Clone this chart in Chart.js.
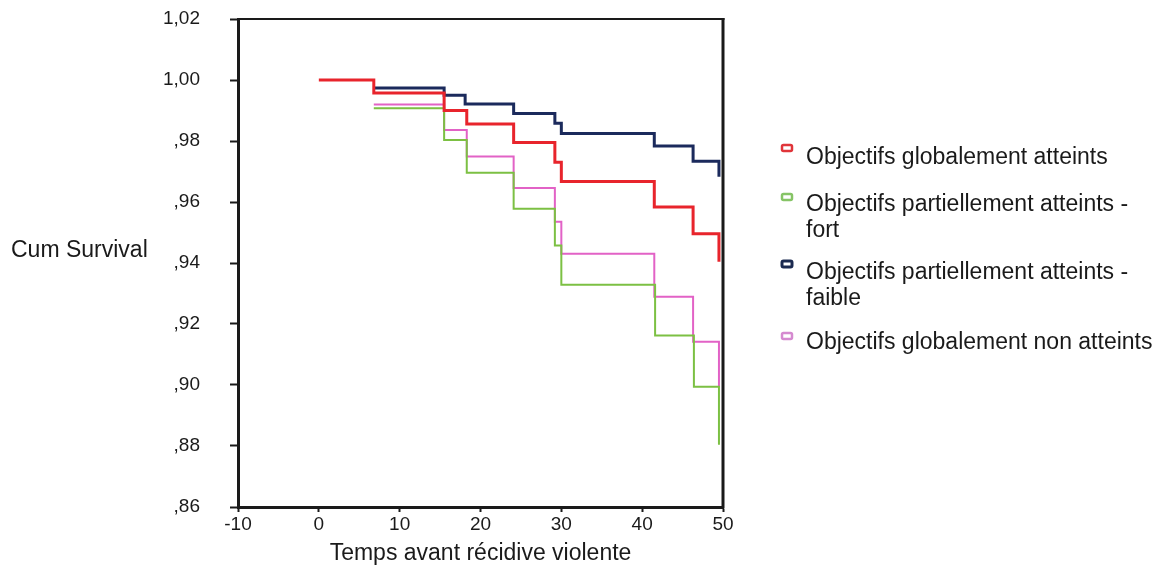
<!DOCTYPE html>
<html>
<head>
<meta charset="utf-8">
<script src="https://cdn.jsdelivr.net/npm/chart.js@4/dist/chart.umd.min.js"></script>
<style>
  html, body { margin: 0; padding: 0; background: #fff; }
  #wrap { width: 1163px; height: 567px; }
</style>
</head>
<body>
<div id="wrap"><canvas id="graphique" width="1163" height="567"></canvas></div>
<script>
// Données (courbes de survie, Kaplan-Meier)
const nomsSeries = [
    ['Objectifs globalement atteints'],
    ['Objectifs partiellement atteints -', 'fort'],
    ['Objectifs partiellement atteints -', 'faible'],
    ['Objectifs globalement non atteints']
];

const tempsGlobAtteints = [0, 6.8, 15.5, 18.3, 24.1, 29.2, 30.0, 41.5, 46.3, 49.5];
const survieGlobAtteints = [1.0, 0.9957, 0.990, 0.9856, 0.9795, 0.973, 0.9667, 0.9584, 0.9496, 0.9404];

const tempsPartFort = [6.8, 15.5, 18.3, 24.1, 29.2, 30.0, 41.6, 46.4, 49.5];
const surviePartFort = [0.9907, 0.9803, 0.9696, 0.9578, 0.9457, 0.9329, 0.9162, 0.8994, 0.8804];

const tempsPartFaible = [6.8, 15.5, 18.1, 24.1, 29.2, 30.0, 41.5, 46.3, 49.5];
const surviePartFaible = [0.9974, 0.995, 0.9921, 0.989, 0.9858, 0.9825, 0.9784, 0.9734, 0.9683];

const tempsNonAtteints = [6.8, 15.5, 18.3, 24.1, 29.2, 30.0, 41.5, 46.3, 49.5];
const survieNonAtteints = [0.992, 0.9836, 0.9749, 0.9646, 0.9535, 0.943, 0.9289, 0.9142, 0.8995];

const ticksX = [-10, 0, 10, 20, 30, 40, 50];
const ticksY = [0.86, 0.88, 0.90, 0.92, 0.94, 0.96, 0.98, 1.00, 1.02];

const couleursLignes = ['#e8242c', '#7cc043', '#1b2a5c', '#e262c6'];
const couleursLegende = ['#e0353a', '#86c466', '#1b2a50', '#d58ad0'];
const epaisseurs = [3, 2, 3, 2];

const POLICE = '"Liberation Sans", Arial, Helvetica, sans-serif';

function points(xs, ys) {
    return xs.map((x, i) => ({ x: x, y: ys[i] }));
}

// Format des ticks comme dans SPSS : 1,02 / ,98
function formatSurvie(v) {
    const s = v.toFixed(2);
    return v >= 1 ? s.replace('.', ',') : ',' + s.split('.')[1];
}

// Cadre haut/droite, titre Y horizontal et légende à droite
const pluginDecor = {
    id: 'decor',
    afterDraw(chart) {
        const ctx = chart.ctx;
        const a = chart.chartArea;
        ctx.save();
        ctx.strokeStyle = '#1a1a1a';
        ctx.lineWidth = 2;
        ctx.beginPath();
        ctx.moveTo(a.left, a.top);
        ctx.lineTo(a.right + 1.5, a.top);
        ctx.stroke();
        ctx.lineWidth = 3;
        ctx.beginPath();
        ctx.moveTo(a.right, a.top - 1);
        ctx.lineTo(a.right, a.bottom + 1.5);
        ctx.stroke();

        ctx.fillStyle = '#1a1a1a';
        ctx.font = '23px ' + POLICE;
        ctx.textBaseline = 'middle';
        ctx.textAlign = 'left';
        ctx.fillText('Cum Survival', 11, 251);

        // légende
        const marqueY = [145, 194, 261, 333];
        const texteY = [[158], [205, 231], [273, 299], [343]];
        nomsSeries.forEach((lignes, i) => {
            ctx.strokeStyle = couleursLegende[i];
            ctx.lineWidth = i === 2 ? 3 : 2.5;
            ctx.beginPath();
            ctx.roundRect(782, marqueY[i], 10, 6, 1.5);
            ctx.stroke();
            ctx.fillStyle = '#1a1a1a';
            lignes.forEach((t, j) => ctx.fillText(t, 806, texteY[i][j]));
        });
        ctx.restore();
    }
};

const donnees = [
    [tempsGlobAtteints, survieGlobAtteints],
    [tempsPartFort, surviePartFort],
    [tempsPartFaible, surviePartFaible],
    [tempsNonAtteints, survieNonAtteints]
];

window.onload = function() {
    const ctx = document.getElementById('graphique').getContext('2d');
    new Chart(ctx, {
        type: 'line',
        data: {
            datasets: donnees.map((d, i) => ({
                label: nomsSeries[i].join(' '),
                data: points(d[0], d[1]),
                borderColor: couleursLignes[i],
                borderWidth: epaisseurs[i],
                stepped: 'before',
                pointRadius: 0,
                fill: false,
                order: [0, 2, 1, 3][i]
            }))
        },
        options: {
            responsive: false,
            animation: false,
            devicePixelRatio: 1,
            layout: { padding: { top: 19, right: 440, left: 0, bottom: 0 } },
            plugins: {
                legend: { display: false },
                tooltip: { enabled: false }
            },
            scales: {
                x: {
                    type: 'linear',
                    min: -10,
                    max: 50,
                    afterBuildTicks(scale) { scale.ticks = ticksX.map(v => ({ value: v })); },
                    afterFit(scale) { scale.height = 60; },
                    grid: { drawOnChartArea: false, drawTicks: true, tickLength: 5, tickWidth: 2, tickColor: '#1a1a1a' },
                    border: { display: true, color: '#1a1a1a', width: 3 },
                    ticks: {
                        color: '#1a1a1a',
                        font: { family: POLICE, size: 19 },
                        padding: 1,
                        maxRotation: 0,
                        callback: v => String(v)
                    },
                    title: {
                        display: true,
                        text: 'Temps avant récidive violente',
                        color: '#1a1a1a',
                        font: { family: POLICE, size: 23 },
                        padding: { top: 2, bottom: 0 }
                    }
                },
                y: {
                    min: 0.86,
                    max: 1.02,
                    afterBuildTicks(scale) { scale.ticks = ticksY.map(v => ({ value: v })); },
                    afterFit(scale) {
                        scale.width = 238;
                        scale.paddingTop = 0;
                        scale.paddingBottom = 0;
                    },
                    grid: { drawOnChartArea: false, drawTicks: true, tickLength: 8, tickWidth: 2, tickColor: '#1a1a1a' },
                    border: { display: true, color: '#1a1a1a', width: 3 },
                    ticks: {
                        color: '#1a1a1a',
                        font: { family: POLICE, size: 19 },
                        padding: 30,
                        callback: v => formatSurvie(v)
                    }
                }
            }
        },
        plugins: [pluginDecor]
    });
};
</script>
</body>
</html>
